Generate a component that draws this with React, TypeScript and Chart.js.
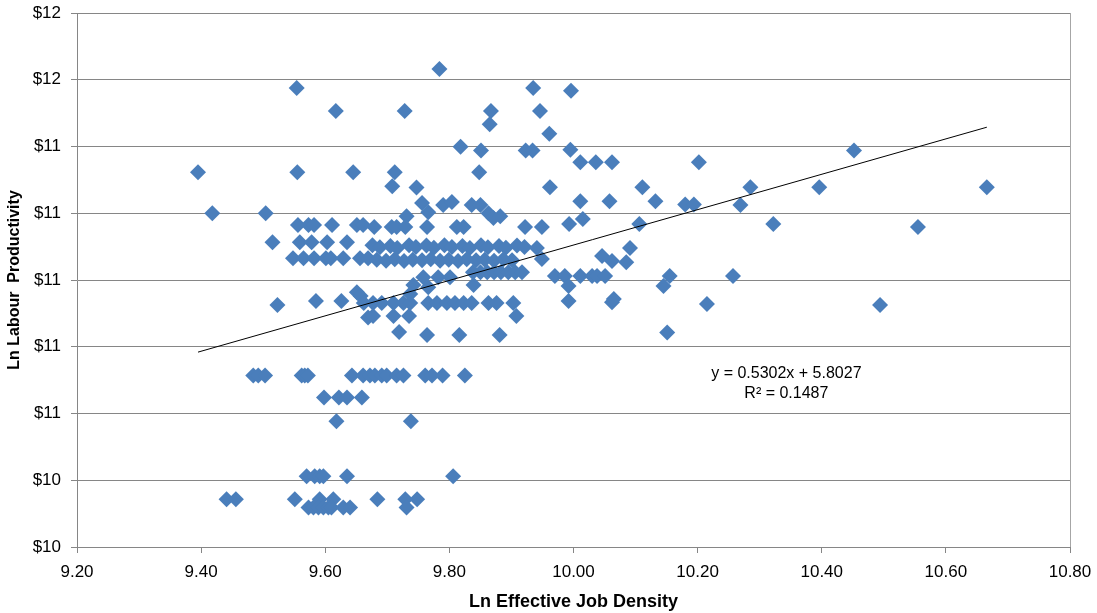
import { useEffect, useRef } from 'react';
import { Chart, registerables } from 'chart.js';

Chart.register(...registerables);

const xTickValues = [9.2, 9.4, 9.6, 9.8, 10.0, 10.2, 10.4, 10.6, 10.8];
const xTickLabels = ['9.20', '9.40', '9.60', '9.80', '10.00', '10.20', '10.40', '10.60', '10.80'];
const yTickValues = [10.2, 10.4, 10.6, 10.8, 11.0, 11.2, 11.4, 11.6, 11.8];
const yTickLabels = ['$10', '$10', '$11', '$11', '$11', '$11', '$11', '$12', '$12'];

const xAxisTitle = 'Ln Effective Job Density';
const yAxisTitle = 'Ln Labour  Productivity';

const trendSlope = 0.5302;
const trendIntercept = 5.8027;
const trendText = ['y = 0.5302x + 5.8027', 'R\u00B2 = 0.1487'];
const trendLabelAt = [10.343, 10.72];

// Ln Effective Job Density (x)
const jobDensity = [
  // upper group
  9.784, 9.554, 9.935, 9.996, 9.395, 9.555, 9.617, 9.728, 9.867, 9.865, 9.946, 9.961,
  9.818, 9.851, 9.923, 9.934, 9.995, 10.011, 10.036, 10.062, 10.202, 9.645, 9.712, 9.848,
  9.708, 9.747, 9.962, 10.111, 10.285, 10.452, 10.396, 10.666,
  // middle-left
  9.418, 9.504,
  9.556, 9.573, 9.582, 9.611, 9.651, 9.661,
  9.515, 9.559, 9.578, 9.603, 9.635,
  9.548, 9.565, 9.582, 9.601, 9.609, 9.629, 9.656, 9.669,
  9.523, 9.585, 9.626, 9.651, 9.657, 9.669,
  9.756, 9.766, 9.790, 9.804, 9.836, 9.850, 9.731, 9.863, 9.871, 9.882,
  9.679, 9.707, 9.715, 9.729, 9.764, 9.812, 9.823, 9.922, 9.949,
  // dense band
  9.676, 9.688, 9.705, 9.716, 9.735, 9.746, 9.763, 9.775, 9.792, 9.804, 9.821, 9.833,
  9.851, 9.862, 9.880, 9.891, 9.909, 9.921, 9.941,
  9.683, 9.698, 9.712, 9.727, 9.741, 9.756, 9.770, 9.785, 9.799, 9.814, 9.828, 9.843,
  9.857, 9.872, 9.887, 9.901, 9.949,
  9.838, 9.850, 9.861, 9.872, 9.883, 9.895, 9.906, 9.917,
  9.758, 9.782, 9.801,
  9.742, 9.766, 9.839,
  9.662, 9.677, 9.691, 9.710, 9.726, 9.737, 9.766, 9.780, 9.796, 9.809, 9.823, 9.836,
  9.863, 9.876, 9.903,
  9.737,
  9.677, 9.710, 9.735, 9.908,
  9.719,
  9.764, 9.816, 9.881,
  // middle-right
  10.011, 10.058, 10.132, 10.180, 10.194, 10.269,
  9.993, 10.015, 10.106, 10.322,
  10.091, 10.046, 10.062, 10.085,
  9.970, 9.986, 10.011, 10.030, 10.038, 10.051, 10.155, 10.257,
  9.992, 10.145, 9.992, 10.062, 10.065, 10.215, 10.151,
  10.555, 10.494,
  // lower group
  9.484, 9.492, 9.503, 9.562, 9.567, 9.572, 9.643, 9.661, 9.672, 9.680, 9.691, 9.699,
  9.715, 9.726, 9.761, 9.772, 9.789, 9.825,
  9.598, 9.622, 9.635, 9.659,
  9.618, 9.738,
  9.570, 9.583, 9.591, 9.597, 9.635, 9.806,
  9.441, 9.456, 9.551, 9.591, 9.613, 9.684, 9.729, 9.748,
  9.573, 9.581, 9.589, 9.597, 9.605, 9.610, 9.629, 9.640, 9.731,
];

// Ln Labour Productivity (y)
const productivity = [
  // upper group
  11.632, 11.575, 11.575, 11.567, 11.323, 11.323, 11.506, 11.506, 11.506, 11.467, 11.506, 11.438,
  11.399, 11.388, 11.388, 11.388, 11.390, 11.353, 11.353, 11.353, 11.353, 11.323, 11.323, 11.323,
  11.281, 11.277, 11.278, 11.278, 11.278, 11.388, 11.278, 11.278,
  // middle-left
  11.200, 11.200,
  11.165, 11.165, 11.165, 11.165, 11.165, 11.165,
  11.113, 11.113, 11.113, 11.113, 11.113,
  11.065, 11.065, 11.065, 11.065, 11.065, 11.065, 11.065, 11.065,
  10.925, 10.937, 10.937, 10.963, 10.952, 10.888,
  11.231, 11.203, 11.225, 11.234, 11.225, 11.225, 11.191, 11.200, 11.186, 11.191,
  11.159, 11.159, 11.159, 11.159, 11.159, 11.159, 11.159, 11.159, 11.159,
  // dense band
  11.104, 11.098, 11.102, 11.096, 11.104, 11.099, 11.103, 11.097, 11.104, 11.099, 11.102, 11.096,
  11.104, 11.098, 11.102, 11.097, 11.103, 11.099, 11.096,
  11.061, 11.058, 11.062, 11.057, 11.061, 11.059, 11.062, 11.058, 11.061, 11.057, 11.062, 11.059,
  11.061, 11.058, 11.062, 11.059, 11.063,
  11.023, 11.023, 11.023, 11.023, 11.023, 11.023, 11.023, 11.023,
  11.008, 11.008, 11.008,
  10.985, 10.978, 10.985,
  10.931, 10.931, 10.931, 10.931, 10.931, 10.931, 10.931, 10.931, 10.931, 10.931, 10.931, 10.931,
  10.931, 10.931, 10.931,
  10.958,
  10.892, 10.892, 10.892, 10.892,
  10.844,
  10.835, 10.835, 10.835,
  // middle-right
  11.236, 11.236, 11.236, 11.226, 11.226, 11.225,
  11.168, 11.183, 11.168, 11.168,
  11.096, 11.072, 11.057, 11.053,
  11.012, 11.012, 11.012, 11.012, 11.012, 11.012, 11.012, 11.012,
  10.982, 10.982, 10.937, 10.933, 10.943, 10.928, 10.843,
  11.159, 10.925,
  // lower group
  10.714, 10.714, 10.714, 10.714, 10.714, 10.714, 10.714, 10.714, 10.714, 10.714, 10.714, 10.714,
  10.714, 10.714, 10.714, 10.714, 10.714, 10.714,
  10.648, 10.648, 10.648, 10.648,
  10.577, 10.577,
  10.412, 10.412, 10.412, 10.412, 10.412, 10.412,
  10.343, 10.343, 10.343, 10.343, 10.343, 10.343, 10.343, 10.343,
  10.318, 10.318, 10.318, 10.318, 10.318, 10.318, 10.318, 10.318, 10.318,
];

const FONT = '"Liberation Sans", Arial, sans-serif';
const MARKER = '#4A7EBB';
const GRID = '#868686';

export default function App() {
  const ref = useRef<HTMLCanvasElement>(null);

  useEffect(() => {
    document.body.style.margin = '0';
    const canvas = ref.current!;
    const points = jobDensity.map((x, i) => ({ x, y: productivity[i] }));
    const xMin = Math.min(...jobDensity);
    const xMax = Math.max(...jobDensity);
    const trend = [
      { x: xMin, y: trendSlope * xMin + trendIntercept },
      { x: xMax, y: trendSlope * xMax + trendIntercept },
    ];

    const framePlugin = {
      id: 'frame',
      beforeDatasetsDraw(chart: any) {
        const { ctx, chartArea: a } = chart;
        ctx.save();
        ctx.strokeStyle = '#A6A6A6';
        ctx.lineWidth = 1;
        ctx.beginPath();
        ctx.moveTo(Math.round(a.right) + 0.5, a.top);
        ctx.lineTo(Math.round(a.right) + 0.5, a.bottom);
        ctx.stroke();
        ctx.restore();
      },
    };

    const equationPlugin = {
      id: 'equation',
      afterDatasetsDraw(chart: any) {
        const { ctx, scales } = chart;
        const px = scales.x.getPixelForValue(trendLabelAt[0]);
        const py = scales.y.getPixelForValue(trendLabelAt[1]);
        ctx.save();
        ctx.font = `16px ${FONT}`;
        ctx.fillStyle = '#000';
        ctx.textAlign = 'center';
        ctx.textBaseline = 'middle';
        ctx.fillText(trendText[0], px, py);
        ctx.fillText(trendText[1], px, py + 20);
        ctx.restore();
      },
    };

    const chart = new Chart(canvas, {
      type: 'scatter',
      data: {
        datasets: [
          {
            data: trend,
            showLine: true,
            borderColor: '#000',
            borderWidth: 1,
            pointRadius: 0,
            order: 0,
          },
          {
            data: points,
            pointStyle: 'rectRot',
            pointRadius: 8,
            pointBackgroundColor: MARKER,
            pointBorderColor: MARKER,
            pointBorderWidth: 0,
            order: 1,
          },
        ],
      },
      options: {
        responsive: false,
        animation: false,
        layout: { padding: { top: 13, right: 27, left: 0, bottom: 0 } },
        plugins: { legend: { display: false }, tooltip: { enabled: false } },
        scales: {
          x: {
            type: 'linear',
            min: 9.2,
            max: 10.8,
            afterBuildTicks: (s: any) => {
              s.ticks = xTickValues.map((v) => ({ value: v }));
            },
            afterFit: (s: any) => {
              s.height = 66;
              s.paddingLeft = 0;
              s.paddingRight = 0;
            },
            ticks: {
              callback: (_v: any, i: number) => xTickLabels[i],
              font: { family: FONT, size: 17 },
              color: '#000',
              padding: 9,
              autoSkip: false,
              maxRotation: 0,
            },
            grid: { drawOnChartArea: false, tickLength: 6, color: GRID },
            border: { color: GRID },
            title: {
              display: true,
              text: xAxisTitle,
              font: { family: FONT, size: 18, weight: 'bold' },
              color: '#000',
              padding: { top: 6, bottom: 0 },
            },
          },
          y: {
            type: 'linear',
            min: 10.2,
            max: 11.8,
            afterBuildTicks: (s: any) => {
              s.ticks = yTickValues.map((v) => ({ value: v }));
            },
            afterFit: (s: any) => {
              s.width = 77;
              s.paddingTop = 0;
              s.paddingBottom = 0;
            },
            ticks: {
              callback: (_v: any, i: number) => yTickLabels[i],
              font: { family: FONT, size: 17 },
              color: '#000',
              padding: 10,
            },
            grid: { tickLength: 6, color: GRID },
            border: { color: GRID },
            title: {
              display: true,
              text: yAxisTitle,
              font: { family: FONT, size: 16, weight: 'bold' },
              color: '#000',
              padding: { top: 5, bottom: 0 },
            },
          },
        },
      },
      plugins: [framePlugin, equationPlugin],
    } as any);

    return () => chart.destroy();
  }, []);

  return <canvas ref={ref} width={1097} height={613} style={{ display: 'block' }} />;
}
